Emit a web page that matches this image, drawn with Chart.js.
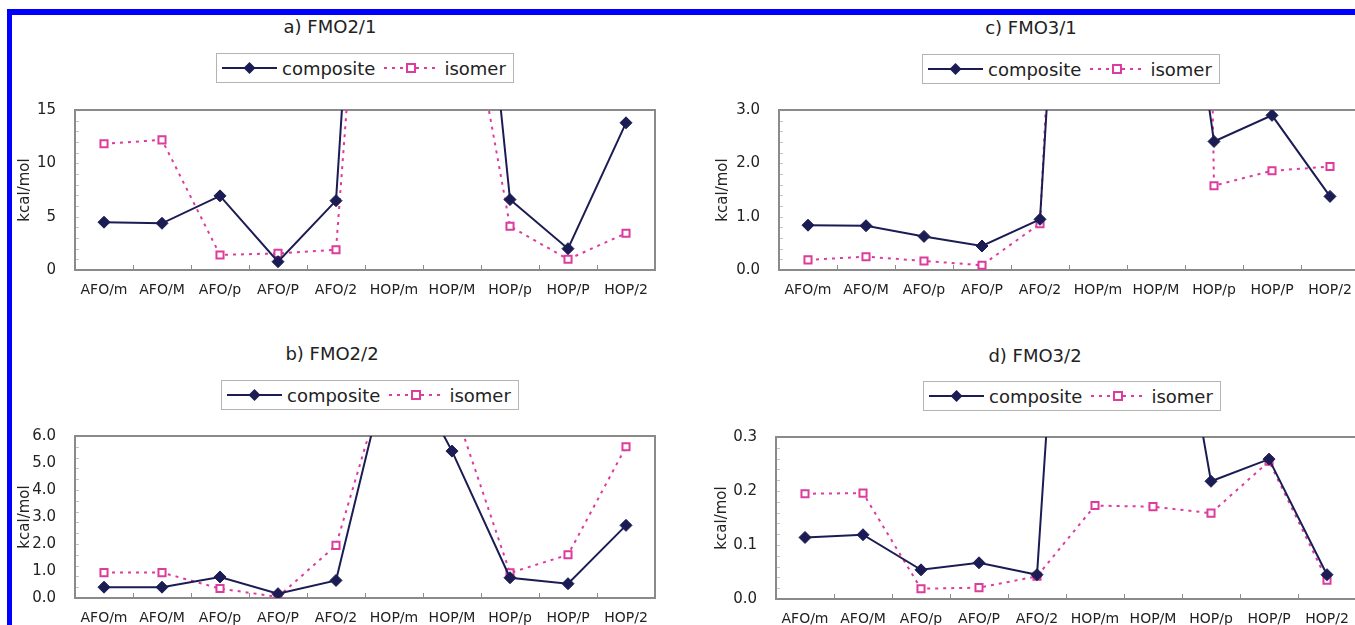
<!DOCTYPE html>
<html>
<head>
<meta charset="utf-8">
<script src="https://cdn.jsdelivr.net/npm/chart.js@4.4.1/dist/chart.umd.min.js"></script>
<style>
html, body { margin: 0; padding: 0; background: #fff; overflow: hidden; width: 1355px; height: 625px; }
body { position: relative; font-family: "DejaVu Sans", sans-serif; color: #222; }
#frame { position: absolute; left: 7px; top: 9px; width: 2000px; height: 1000px; border-left: 5px solid #0000ff; border-top: 6px solid #0000ff; }
.title { position: absolute; width: 300px; text-align: center; font-size: 18px; line-height: 20px; }
.legend { position: absolute; height: 30px; border: 1px solid #b4b4b4; display: flex; align-items: center; font-size: 18px; padding: 0 7px 0 5px; box-sizing: border-box; background: #fff; white-space: nowrap; }
.legend svg { display: block; }
canvas { position: absolute; }
</style>
</head>
<body>
<div id="frame"></div>

<div class="title" style="left:180px;top:17px">a) FMO2/1</div>
<div class="title" style="left:881px;top:18px">c) FMO3/1</div>
<div class="title" style="left:182px;top:344px">b) FMO2/2</div>
<div class="title" style="left:885px;top:346px">d) FMO3/2</div>

<div class="legend" style="left:216px;top:53px"></div>
<div class="legend" style="left:922px;top:54px"></div>
<div class="legend" style="left:221px;top:380px"></div>
<div class="legend" style="left:923px;top:381px"></div>

<canvas id="chartA" width="660" height="209" style="left:14px;top:96px"></canvas>
<canvas id="chartC" width="660" height="209" style="left:712px;top:96px"></canvas>
<canvas id="chartB" width="660" height="203" style="left:14px;top:422px"></canvas>
<canvas id="chartD" width="660" height="202" style="left:711px;top:423px"></canvas>

<script>
// categorias del eje x
const categories = ['AFO/m', 'AFO/M', 'AFO/p', 'AFO/P', 'AFO/2', 'HOP/m', 'HOP/M', 'HOP/p', 'HOP/P', 'HOP/2'];

// a) FMO2/1  (HOP/m y HOP/M salen por arriba de la escala)
const fmo21Composite = [4.48, 4.38, 6.95, 0.78, 6.5, 90, 60, 6.6, 2.0, 13.8];
const fmo21Isomer = [11.83, 12.2, 1.41, 1.56, 1.9, 74, 34, 4.1, 1.0, 3.45];

// b) FMO2/2
const fmo22Composite = [0.4, 0.4, 0.78, 0.16, 0.65, 9.5, 5.44, 0.75, 0.53, 2.69];
const fmo22Isomer = [0.94, 0.94, 0.35, 0.04, 1.95, 9.2, 7.3, 0.93, 1.6, 5.6];

// c) FMO3/1
const fmo31Composite = [0.84, 0.83, 0.63, 0.45, 0.95, 19, 10, 2.41, 2.9, 1.38];
const fmo31Isomer = [0.19, 0.25, 0.17, 0.09, 0.87, 22.6, 65, 1.58, 1.86, 1.94];

// d) FMO3/2
const fmo32Composite = [0.114, 0.119, 0.054, 0.067, 0.045, 1.67, 0.83, 0.218, 0.259, 0.045];
const fmo32Isomer = [0.195, 0.196, 0.019, 0.021, 0.042, 0.173, 0.171, 0.159, 0.255, 0.035];

// escalas del eje y: [max, paso, decimales]
const yAxisA = [15, 5, 0];
const yAxisB = [6, 1, 1];
const yAxisC = [3, 1, 1];
const yAxisD = [0.3, 0.1, 1];

const seriesNames = ['composite', 'isomer'];
const NAVY = '#1c1c55';
const PINK = '#dc3c9e';
const FONT = '"DejaVu Sans", sans-serif';

// leyendas en HTML (linea + marcador + texto)
document.querySelectorAll('.legend').forEach(function(el) {
    el.innerHTML =
        '<svg width="55" height="14"><line x1="0" y1="7" x2="55" y2="7" stroke="' + NAVY + '" stroke-width="2"/>' +
        '<polygon points="27.5,1 33.5,7 27.5,13 21.5,7" fill="' + NAVY + '"/></svg>' +
        '<span style="margin-left:5px">' + seriesNames[0] + '</span>' +
        '<svg width="54" height="14" style="margin-left:9px"><line x1="0" y1="7" x2="54" y2="7" stroke="' + PINK + '" stroke-width="2" stroke-dasharray="3 5"/>' +
        '<rect x="23" y="3" width="8" height="8" fill="#fff" stroke="' + PINK + '" stroke-width="2"/></svg>' +
        '<span style="margin-left:6px">' + seriesNames[1] + '</span>';
});

// marco gris del area de trazado y marcas de division
const framePlugin = {
    id: 'frame',
    beforeDatasetsDraw(chart) {
        const ctx = chart.ctx;
        const area = chart.chartArea;
        const x = chart.scales.x;
        const y = chart.scales.y;
        ctx.save();
        ctx.lineWidth = 1;
        ctx.strokeStyle = '#c4c4c4';
        const minor = (y.max - y.min) / 15;
        for (let k = 1; k < 15; k++) {
            const py = Math.round(y.getPixelForValue(y.min + k * minor)) + 0.5;
            ctx.beginPath();
            ctx.moveTo(area.left, py);
            ctx.lineTo(area.left + 4, py);
            ctx.stroke();
        }
        ctx.strokeStyle = '#8c8c8c';
        for (let i = 1; i < categories.length; i++) {
            const px = Math.round((x.getPixelForTick(i - 1) + x.getPixelForTick(i)) / 2) + 0.5;
            ctx.beginPath();
            ctx.moveTo(px, area.bottom);
            ctx.lineTo(px, area.bottom - 5);
            ctx.stroke();
        }
        ctx.lineWidth = 2;
        ctx.strokeStyle = '#8a8a8a';
        ctx.strokeRect(area.left, area.top, area.right - area.left, area.bottom - area.top);
        ctx.restore();
    }
};

function crearGrafico(id, composite, isomer, yAxis, yWidth, xHeight, padRight) {
    const max = yAxis[0], step = yAxis[1], dec = yAxis[2];
    new Chart(document.getElementById(id).getContext('2d'), {
        type: 'line',
        data: {
            labels: categories,
            datasets: [{
                label: seriesNames[0],
                data: composite,
                borderColor: NAVY,
                backgroundColor: NAVY,
                borderWidth: 2,
                pointStyle: 'rectRot',
                pointRadius: 6,
                pointBorderWidth: 1,
                tension: 0
            }, {
                label: seriesNames[1],
                data: isomer,
                borderColor: PINK,
                backgroundColor: '#ffffff',
                borderWidth: 2,
                borderDash: [3, 5],
                pointStyle: 'rect',
                pointRadius: 5,
                pointBorderWidth: 2,
                tension: 0
            }]
        },
        options: {
            responsive: false,
            animation: false,
            devicePixelRatio: 1,
            layout: { padding: { top: 14, right: padRight, left: 0, bottom: 0 } },
            plugins: { legend: { display: false }, tooltip: { enabled: false } },
            scales: {
                x: {
                    offset: true,
                    afterFit: function(s) { s.height = xHeight; },
                    grid: { display: false, drawTicks: false },
                    border: { display: false },
                    ticks: { padding: 12, maxRotation: 0, autoSkip: false, color: '#222', font: { family: FONT, size: 14 } }
                },
                y: {
                    min: 0,
                    max: max,
                    afterFit: function(s) { s.width = yWidth; },
                    // separacion de etiquetas via tickLength (no suma al padding superior)
                    grid: { display: false, drawTicks: true, tickLength: 19 },
                    border: { display: false },
                    ticks: {
                        stepSize: step,
                        padding: 0,
                        color: '#222',
                        font: { family: FONT, size: 15 },
                        callback: function(v) { return Number(v).toFixed(dec); }
                    },
                    title: { display: true, text: 'kcal/mol', color: '#222', font: { family: FONT, size: 15 }, padding: { top: 2, bottom: 0 } }
                }
            }
        },
        plugins: [framePlugin]
    });
}

crearGrafico('chartA', fmo21Composite, fmo21Isomer, yAxisA, 61, 35, 19);
crearGrafico('chartC', fmo31Composite, fmo31Isomer, yAxisC, 67, 35, 13);
crearGrafico('chartB', fmo22Composite, fmo22Isomer, yAxisB, 61, 27, 19);
crearGrafico('chartD', fmo32Composite, fmo32Isomer, yAxisD, 65, 26, 15);
</script>
</body>
</html>
